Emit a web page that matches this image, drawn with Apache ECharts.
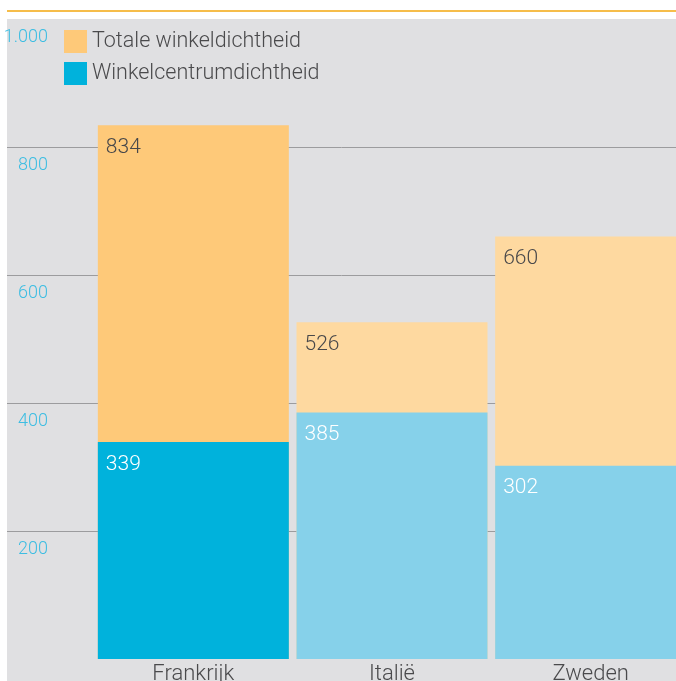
<!DOCTYPE html>
<html><head><meta charset="utf-8">
<script src="https://cdn.jsdelivr.net/npm/echarts@6/dist/echarts.min.js"></script>
<style>html,body{margin:0;padding:0;background:#fff}#c{width:676px;height:681px}</style>
</head><body><div id="c"></div>
<script>
const categories = ['Frankrijk', 'Italië', 'Zweden'];
const totaleWinkeldichtheid = [834, 526, 660];
const winkelcentrumdichtheid = [339, 385, 302];
const seriesNames = ['Totale winkeldichtheid', 'Winkelcentrumdichtheid'];
const yMax = 1000, yStep = 200;

const totalColors = ['#fec979', '#fed9a0', '#fed9a0'];
const centrumColors = ['#00b2dc', '#86d1ea', '#86d1ea'];
const FONT = 'Roboto';

const chart = echarts.init(document.getElementById('c'));
const labelCommon = { show: true, position: [8, 12], fontFamily: FONT, fontWeight: 300, fontSize: 21 };
chart.setOption({
  animation: false,
  graphic: [
    { type: 'rect', z: -10, shape: { x: 7, y: 19, width: 669, height: 662 }, style: { fill: '#e0e0e2' } },
    { type: 'line', z: -10, shape: { x1: 7, y1: 11, x2: 676, y2: 11 }, style: { stroke: '#f6bd4a', lineWidth: 2 } }
  ],
  legend: {
    orient: 'vertical', left: 64, top: 26, padding: 0, itemWidth: 23, itemHeight: 23, itemGap: 1, icon: 'rect',
    textStyle: { fontFamily: FONT, fontWeight: 300, fontSize: 21.5, lineHeight: 23, color: '#4a4a4c',
      padding: [8, 0, 0, 0] },
    data: seriesNames
  },
  grid: [
    { left: 7, right: 0, top: 19, bottom: 22, outerBoundsMode: 'none', containLabel: false },
    { left: 94, width: 596, top: 19, bottom: 22, outerBoundsMode: 'none', containLabel: false }
  ],
  xAxis: [
    { type: 'category', gridIndex: 0, data: [''], show: false },
    { type: 'category', gridIndex: 1, data: categories, axisLine: { show: false }, axisTick: { show: false },
      axisLabel: { margin: 4, fontFamily: FONT, fontWeight: 300, fontSize: 22, color: '#4a4a4c' } }
  ],
  yAxis: [
    { type: 'value', gridIndex: 0, min: 0, max: yMax, interval: yStep,
      axisLine: { show: false }, axisTick: { show: false },
      splitLine: { show: true, showMinLine: false, showMaxLine: false, lineStyle: { color: '#9c9c9e', width: 1 } },
      axisLabel: { showMinLabel: false, align: 'right', verticalAlign: 'top', margin: -41, padding: [9, 0, 0, 0],
        fontFamily: FONT, fontWeight: 300, fontSize: 18, color: '#3dbde2',
        formatter: v => v >= 1000 ? (v / 1000) + '.' + String(v % 1000).padStart(3, '0') : String(v) } },
    { type: 'value', gridIndex: 1, min: 0, max: yMax, interval: yStep, show: false, splitLine: { show: false } }
  ],
  series: [
    { name: seriesNames[0], type: 'bar', xAxisIndex: 1, yAxisIndex: 1, barWidth: 191, barGap: '-100%',
      itemStyle: { color: totalColors[0] },
      data: totaleWinkeldichtheid.map((v, i) => ({ value: v, itemStyle: { color: totalColors[i] } })),
      label: Object.assign({ color: '#48484a' }, labelCommon) },
    { name: seriesNames[1], type: 'bar', xAxisIndex: 1, yAxisIndex: 1, barWidth: 191, barGap: '-100%',
      itemStyle: { color: centrumColors[0] },
      data: winkelcentrumdichtheid.map((v, i) => ({ value: v, itemStyle: { color: centrumColors[i] } })),
      label: Object.assign({ color: '#ffffff' }, labelCommon) }
  ]
});
</script></body></html>
